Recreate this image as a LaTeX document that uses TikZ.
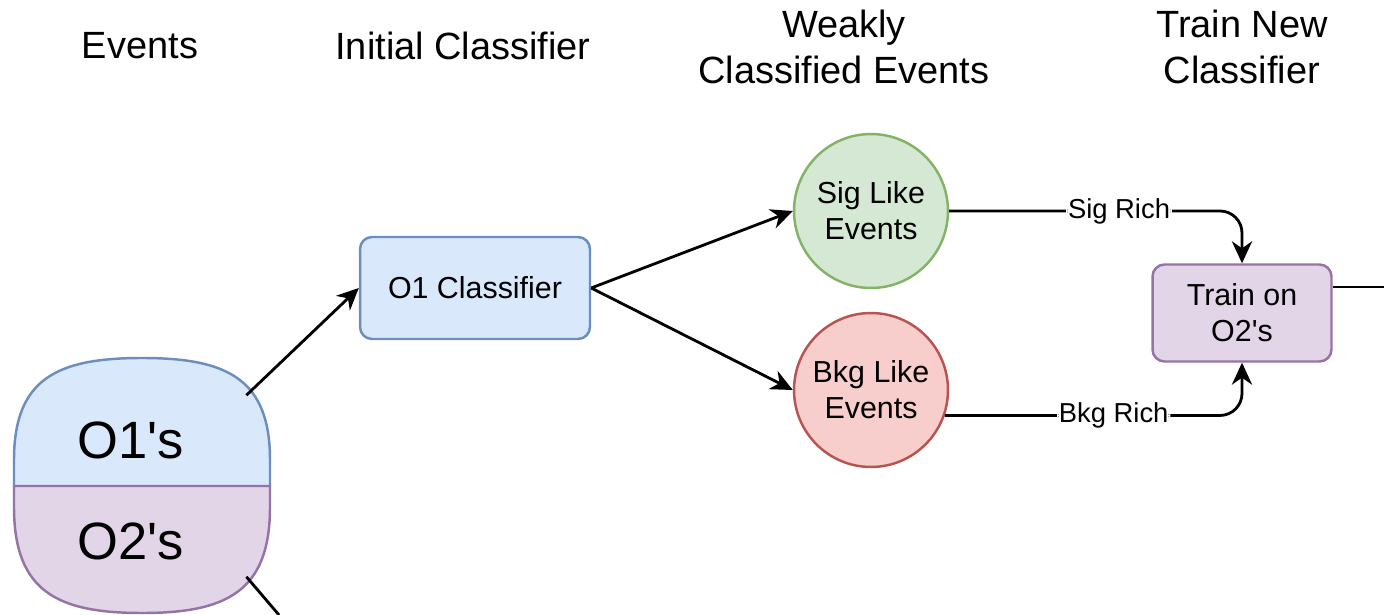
\documentclass[tikz,border=0pt]{standalone}
\usepackage{fontspec}
\setmainfont{Liberation Sans}[Ligatures=TeXOff]
\usetikzlibrary{arrows.meta}

\definecolor{bluefill}{HTML}{DAE8FC}
\definecolor{blueline}{HTML}{6C8EBF}
\definecolor{purpfill}{HTML}{E1D5E7}
\definecolor{purpline}{HTML}{9673A6}
\definecolor{greenfill}{HTML}{D5E8D4}
\definecolor{greenline}{HTML}{82B366}
\definecolor{redfill}{HTML}{F8CECC}
\definecolor{redline}{HTML}{B85450}

\begin{document}
\begin{tikzpicture}[x=0.02cm, y=-0.02cm,
                    main node/.style={draw,line width=1.4pt,align=center,font=\fontsize{17.3}{20.5}\selectfont},
                    box node/.style={main node,rectangle,rounded corners=0.24cm},
                    round node/.style={main node,circle,minimum size=3.08cm,inner sep=0pt},
                    title node/.style={align=center,font=\fontsize{21.6}{26.2}\selectfont},
                    link/.style={line width=1.6pt,-{Stealth[length=12.5pt,width=11.5pt,inset=4pt]}},
                    tag/.style={fill=white,inner sep=1pt,font=\fontsize{15.6}{18}\selectfont}]

  \useasboundingbox (0,0) rectangle (1384,615);

  % column titles
  \node[title node] (t1) at (140,46) {Events};
  \node[title node] (t2) at (463,46) {Initial Classifier};
  \node[title node] (t3) at (844,47) {Weakly\\Classified Events};
  \node[title node] (t4) at (1242,47) {Train New\\Classifier};

  % the events blob
  \node[circle,minimum size=5.52cm,inner sep=0pt] (ev) at (142,486) {};
  \filldraw[fill=bluefill,draw=blueline,line width=1.4pt]
    (14,486) -- (14,460) .. controls (14,378) and (58,358) .. (142,358)
    .. controls (226,358) and (270,378) .. (270,460) -- (270,486);
  \filldraw[fill=purpfill,draw=purpline,line width=1.4pt]
    (14,486) -- (14,507) .. controls (14,592) and (58,613) .. (142,613)
    .. controls (226,613) and (270,592) .. (270,507) -- (270,486) -- cycle;
  \node[font=\fontsize{29.9}{36}\selectfont] (o1s) at (131,440) {O1's};
  \node[font=\fontsize{29.9}{36}\selectfont] (o2s) at (131,541) {O2's};

  \node[box node,fill=bluefill,draw=blueline,minimum width=4.6cm,minimum height=2.04cm] (o1) at (475,288) {O1 Classifier};
  \node[round node,fill=greenfill,draw=greenline] (sig) at (871,211) {Sig Like\\Events};
  \node[round node,fill=redfill,draw=redline] (bkg) at (871,390) {Bkg Like\\Events};
  \node[box node,fill=purpfill,draw=purpline,minimum width=3.58cm,minimum height=1.94cm] (train) at (1242,313) {Train on\\O2's};

  \coordinate (down) at (279,615);
  \coordinate (out) at (1384,287);

  \path[link]
    (ev.41.5) edge (o1.west)
    (o1.east) edge (sig.west)
    (o1.east) edge (bkg.west);

  \draw[link,rounded corners=0.44cm] (sig.east) -| node[tag,pos=0.29] {Sig Rich} (train.north);
  \draw[link,rounded corners=0.44cm] (bkg.-19) -| node[tag,pos=0.284] {Bkg Rich} (train.south);

  \draw[line width=1.6pt] (ev.-41) -- (down);
  \draw[line width=1.6pt] (out -| train.east) -- (out);

\end{tikzpicture}
\end{document}
